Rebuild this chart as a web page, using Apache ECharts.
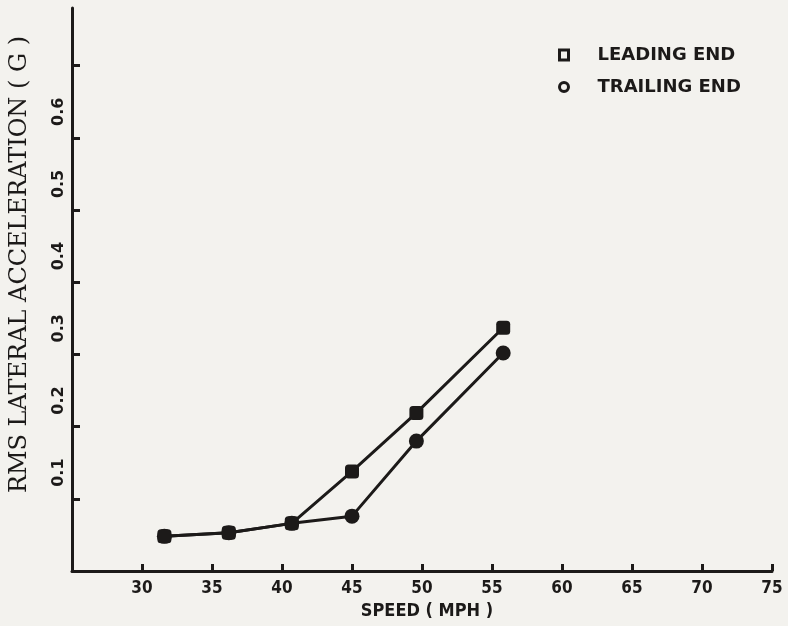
<!DOCTYPE html>
<html>
<head>
<meta charset="utf-8">
<title>RMS Lateral Acceleration vs Speed</title>
<script src="https://cdn.jsdelivr.net/npm/echarts@6/dist/echarts.min.js"></script>
<style>
  html, body { margin: 0; padding: 0; background: #f3f2ee; }
  #chart { width: 788px; height: 626px; }
</style>
</head>
<body>
<div id="chart"></div>
<script>
// Measured speeds (mph) and RMS lateral acceleration (g) at each car end
const speeds = [31.6, 36.2, 40.7, 45.0, 49.6, 55.8];
const leadingEnd = [0.048, 0.053, 0.066, 0.138, 0.219, 0.337];
const trailingEnd = [0.048, 0.053, 0.066, 0.076, 0.180, 0.302];

// Axis tick positions and labels
const speedTicks = [30, 35, 40, 45, 50, 55, 60, 65, 70, 75];
const accelTicks = [0.1, 0.2, 0.3, 0.4, 0.5, 0.6, 0.7];
const accelLabels = [0.1, 0.2, 0.3, 0.4, 0.5, 0.6];

const seriesNames = ['LEADING END', 'TRAILING END'];

const ink = '#1c1a19';
const paper = '#f3f2ee';
const tickFont = "'DejaVu Sans Condensed', 'DejaVu Sans', sans-serif";

const pairs = (xs, ys) => xs.map((x, i) => [x, ys[i]]);

const chart = echarts.init(document.getElementById('chart'), null, { renderer: 'canvas' });

chart.setOption({
  backgroundColor: paper,
  animation: false,
  grid: { left: 72, right: 16, top: 8, bottom: 55, containLabel: false, outerBoundsMode: 'none' },
  legend: {
    orient: 'vertical',
    left: 553,
    top: 41,
    itemWidth: 9,
    itemHeight: 10,
    itemGap: 14,
    selectedMode: false,
    data: [
      { name: seriesNames[0], icon: 'rect' },
      { name: seriesNames[1], icon: 'circle' }
    ],
    itemStyle: { color: paper, borderColor: ink, borderWidth: 3 },
    textStyle: {
      color: ink,
      fontFamily: "'DejaVu Sans', sans-serif",
      fontWeight: 'bold',
      fontSize: 18,
      padding: [0, 0, 0, 24]
    }
  },
  xAxis: {
    type: 'value',
    min: 25,
    max: 75,
    interval: 5,
    name: 'SPEED ( MPH )',
    nameLocation: 'middle',
    nameGap: 30,
    nameTextStyle: {
      color: ink,
      fontFamily: tickFont,
      fontWeight: 'bold',
      fontSize: 18,
      padding: [0, 0, 0, 10]
    },
    axisLine: { show: true, lineStyle: { color: ink, width: 3 } },
    axisTick: {
      show: true,
      inside: true,
      length: 7,
      customValues: speedTicks,
      lineStyle: { color: ink, width: 3 }
    },
    axisLabel: {
      show: true,
      customValues: speedTicks,
      margin: 9,
      color: ink,
      fontFamily: tickFont,
      fontWeight: 'bold',
      fontSize: 17
    },
    splitLine: { show: false }
  },
  yAxis: {
    type: 'value',
    min: 0,
    max: 0.78,
    interval: 0.1,
    name: 'RMS LATERAL ACCELERATION ( G )',
    nameLocation: 'middle',
    nameRotate: 90,
    nameGap: 40,
    nameTextStyle: {
      color: ink,
      fontFamily: "'DejaVu Serif', serif",
      fontSize: 24,
      padding: [0, 0, 0, 50]
    },
    axisLine: { show: true, lineStyle: { color: ink, width: 3 } },
    axisTick: {
      show: true,
      inside: true,
      length: 8,
      customValues: accelTicks,
      lineStyle: { color: ink, width: 3 }
    },
    axisLabel: {
      show: true,
      customValues: accelLabels,
      rotate: 90,
      align: 'left',
      verticalAlign: 'bottom',
      padding: [0, 0, 0, 12],
      margin: 5,
      color: ink,
      fontFamily: "'DejaVu Sans', sans-serif",
      fontWeight: 'bold',
      fontSize: 16,
      formatter: v => v.toFixed(1)
    },
    splitLine: { show: false }
  },
  series: [
    {
      name: seriesNames[0],
      type: 'line',
      data: pairs(speeds, leadingEnd),
      symbol: 'roundRect',
      symbolSize: 14,
      lineStyle: { color: ink, width: 3 },
      itemStyle: { color: ink },
      z: 3
    },
    {
      name: seriesNames[1],
      type: 'line',
      data: pairs(speeds, trailingEnd),
      symbol: 'circle',
      symbolSize: 15,
      lineStyle: { color: ink, width: 3 },
      itemStyle: { color: ink },
      z: 2
    }
  ]
});
</script>
</body>
</html>
